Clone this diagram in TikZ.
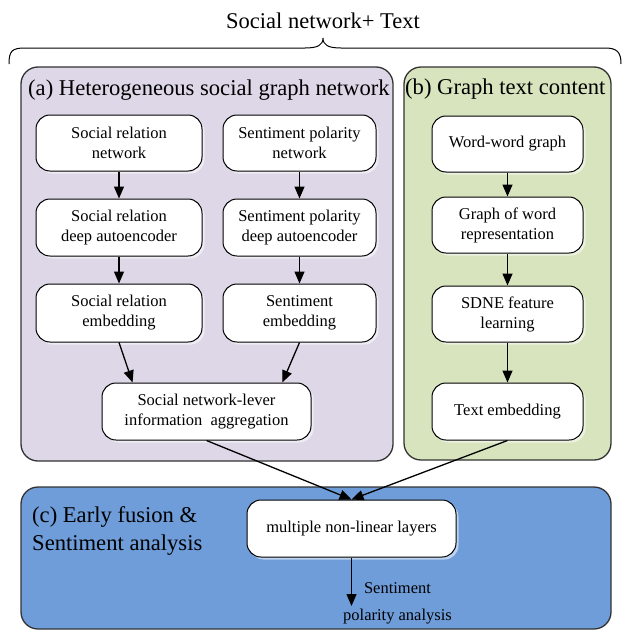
\documentclass[tikz,border=0pt]{standalone}
\usepackage{fontspec}
\setmainfont{Liberation Serif}
\usetikzlibrary{arrows.meta,calc,shadows}
\definecolor{purp}{RGB}{221,215,231}
\definecolor{grn}{RGB}{215,228,190}
\definecolor{blu}{RGB}{110,157,217}
\begin{document}
\begin{tikzpicture}[x=1pt,y=-1pt,
  panel/.style={draw=black!80, line width=1.3pt, rounded corners=17pt},
  box/.style={draw=black, line width=1pt, rounded corners=14pt, fill=white,
    align=center, inner sep=0pt, minimum height=56pt,
    font=\fontsize{16.5}{20}\selectfont,
    drop shadow={shadow xshift=2.5pt, shadow yshift=-2.5pt, fill=white, opacity=0.55}},
  arr/.style={-{Triangle[length=12pt,width=10pt]}, line width=1.3pt},
  big/.style={font=\fontsize{22.6}{28}\selectfont, inner sep=0pt, anchor=west, align=left},
  small/.style={font=\fontsize{16.5}{27}\selectfont, inner sep=0pt, align=center}]
\useasboundingbox (0,0) rectangle (622,632);

% title and brace
\node[font=\fontsize{22.5}{26}\selectfont, inner sep=0pt] (title) at (323,21) {Social network+ Text};
\draw[line width=1pt] (9,64) .. controls (9,51) and (12,48) .. (25,48) -- (305,48)
  .. controls (318,48) and (323,45) .. (323,38)
  .. controls (323,45) and (328,48) .. (341,48) -- (605,48)
  .. controls (617,48) and (621,52) .. (621,64);

% panels
\draw[panel, fill=purp] (21,67) rectangle (393,461);
\draw[panel, fill=grn] (404,67) rectangle (611,460);
\draw[panel, fill=blu] (21,487) rectangle (611,629);

\node[big] (la) at (28,90) {(a) Heterogeneous social graph network};
\node[big] (lb) at (405,89) {(b) Graph text content};
\node[big] (lc) at (32,531) {(c) Early fusion \&\\Sentiment analysis};

% (a) nodes
\node[box, minimum width=166pt] (l1) at (119,143) {Social relation\\network};
\node[box, minimum width=166pt, minimum height=57pt] (l2) at (119,227.5) {Social relation\\deep autoencoder};
\node[box, minimum width=166pt, minimum height=58pt] (l3) at (119,313) {Social relation\\embedding};
\node[box, minimum width=153pt] (r1) at (299.5,143) {Sentiment polarity\\network};
\node[box, minimum width=153pt, minimum height=57pt] (r2) at (299.5,227.5) {Sentiment polarity\\deep autoencoder};
\node[box, minimum width=153pt, minimum height=58pt] (r3) at (299.5,313) {Sentiment\\embedding};
\node[box, minimum width=209pt, minimum height=57pt] (agg) at (206.5,411.5) {Social network-lever\\information~~aggregation};

% (b) nodes
\node[box, minimum width=151pt] (g1) at (507.5,144) {Word-word graph};
\node[box, minimum width=151pt] (g2) at (507.5,225) {Graph of word\\representation};
\node[box, minimum width=151pt] (g3) at (507.5,314) {SDNE feature\\learning};
\node[box, minimum width=151pt, minimum height=57pt] (g4) at (507.5,411.5) {Text embedding};

% (c) nodes
\node[box, minimum width=209pt, minimum height=57pt] (ml) at (351.5,528.5) {multiple non-linear layers};
\coordinate (out) at (351.5,606);
\node[small] (sp) at (397.5,603.5) {Sentiment\\polarity analysis};

% arrows
\draw[arr] (l1.south) -- (l2.north);
\draw[arr] (l2.south) -- (l3.north);
\draw[arr] (r1.south) -- (r2.north);
\draw[arr] (r2.south) -- (r3.north);
\draw[arr] (l3.south) -- ($(agg.north west)!0.148!(agg.north east)$);
\draw[arr] (r3.south) -- ($(agg.north west)!0.861!(agg.north east)$);
\draw[arr] (g1.south) -- (g2.north);
\draw[arr] (g2.south) -- (g3.north);
\draw[arr] (g3.south) -- (g4.north);
\draw[arr] (agg.south) -- (ml.north);
\draw[arr] (g4.south) -- (ml.north);
\draw[arr] (ml.south) -- (out);
\end{tikzpicture}
\end{document}
